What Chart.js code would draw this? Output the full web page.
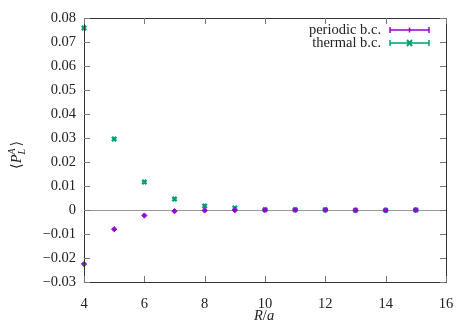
<!DOCTYPE html>
<html><head><meta charset="utf-8">
<script src="https://cdn.jsdelivr.net/npm/chart.js@4/dist/chart.umd.min.js"></script>
<style>html,body{margin:0;padding:0;background:#fff}#wrap{width:473px;height:329px}</style>
</head><body><div id="wrap"><canvas id="c" width="473" height="329"></canvas></div>
<script>
const R = [4,5,6,7,8,9,10,11,12,13,14,15];
const periodic = [-0.0225,-0.0080,-0.0023,-0.0005,-0.0002,-0.0001,0.0000,0.0000,0.0000,-0.0001,-0.0001,0.0000];
const thermal  = [0.0758,0.0296,0.0117,0.0046,0.0017,0.0008,0.0001,0.0001,0.0001,-0.0001,-0.0001,0.0000];
const xTicks = [4,6,8,10,12,14,16];
const yTicks = [-0.03,-0.02,-0.01,0,0.01,0.02,0.03,0.04,0.05,0.06,0.07,0.08];
const seriesLabels = ['periodic b.c.','thermal b.c.'];
const colors = ['#9400d3','#009e73'];
const FONT = '"Liberation Serif", "DejaVu Serif", serif';
const FS = 14.5;

function fmtY(v){
  if (Math.abs(v) < 1e-9) return '0';
  const s = Math.abs(v).toFixed(2);
  return (v<0?'\u2212':'') + s;
}

const frame = {
  id:'frame',
  afterDraw(chart){
    const {ctx, chartArea:a, scales:{x,y}} = chart;
    ctx.save();
    ctx.strokeStyle = '#333';
    ctx.lineWidth = 1;
    ctx.strokeRect(a.left+0.5, a.top+0.5, a.right-a.left, a.bottom-a.top);
    ctx.strokeStyle = '#777';
    ctx.beginPath();
    xTicks.forEach(t=>{const p=Math.round(x.getPixelForValue(t))+0.5;
      ctx.moveTo(p,a.bottom);ctx.lineTo(p,a.bottom-6);ctx.moveTo(p,a.top);ctx.lineTo(p,a.top+6);});
    yTicks.forEach(t=>{const p=Math.round(y.getPixelForValue(t))+0.5;
      ctx.moveTo(a.left,p);ctx.lineTo(a.left+6,p);ctx.moveTo(a.right,p);ctx.lineTo(a.right-6,p);});
    ctx.stroke();
    // legend
    ctx.font = FS+'px '+FONT;
    ctx.textAlign='right'; ctx.textBaseline='middle'; ctx.fillStyle='#222';
    const ly=[30,43];
    seriesLabels.forEach((lab,i)=>{
      ctx.fillText(lab, 381, ly[i]);
      ctx.strokeStyle=colors[i]; ctx.lineWidth=1.5;
      ctx.beginPath(); ctx.moveTo(390,ly[i]); ctx.lineTo(429,ly[i]);
      ctx.moveTo(390,ly[i]-3);ctx.lineTo(390,ly[i]+3);
      ctx.moveTo(429,ly[i]-3);ctx.lineTo(429,ly[i]+3);
      ctx.stroke();
      if(i===0){ctx.beginPath();ctx.moveTo(409.5,ly[i]-2.5);ctx.lineTo(409.5,ly[i]+2.5);ctx.stroke();}
      else {ctx.lineWidth=2;ctx.beginPath();ctx.moveTo(407,ly[i]-3);ctx.lineTo(412,ly[i]+3);ctx.moveTo(412,ly[i]-3);ctx.lineTo(407,ly[i]+3);ctx.stroke();}
    });
    // axis titles
    ctx.fillStyle='#222';
    ctx.textAlign='left'; ctx.textBaseline='alphabetic';
    ctx.font='italic '+FS+'px '+FONT;
    let xx=254;
    ctx.fillText('R',xx,320); xx+=ctx.measureText('R').width;
    ctx.font=FS+'px '+FONT; ctx.fillText('/',xx,320); xx+=ctx.measureText('/').width;
    ctx.font='italic '+FS+'px '+FONT; ctx.fillText('a',xx,320);
    // y title rotated
    ctx.translate(21,150); ctx.rotate(-Math.PI/2);
    let yy=-19;
    ctx.font=FS+'px '+FONT; ctx.fillText('\u27E8',yy,0); yy+=ctx.measureText('\u27E8').width;
    ctx.font='italic '+FS+'px '+FONT; ctx.fillText('P',yy,0); yy+=ctx.measureText('P').width;
    ctx.font='italic 10px '+FONT; ctx.fillText('A',yy,-6); ctx.fillText('L',yy,4); yy+=8;
    ctx.font=FS+'px '+FONT; ctx.fillText('\u27E9',yy,0);
    ctx.restore();
  }
};

new Chart(document.getElementById('c'),{
  type:'scatter',
  data:{datasets:[
    {label:seriesLabels[0],data:R.map((r,i)=>({x:r,y:periodic[i]})),clip:false,
     pointStyle:'rectRot',pointRadius:2.6,backgroundColor:colors[0],borderColor:colors[0],borderWidth:1},
    {label:seriesLabels[1],data:R.map((r,i)=>({x:r,y:thermal[i]})),clip:false,
     pointStyle:'crossRot',pointRadius:3,backgroundColor:colors[1],borderColor:colors[1],borderWidth:2.4}
  ]},
  options:{
    responsive:false,animation:false,
    layout:{padding:{left:0,right:27,top:18,bottom:0}},
    plugins:{legend:{display:false},tooltip:{enabled:false}},
    scales:{
      x:{type:'linear',min:4,max:16,
        afterBuildTicks(s){s.ticks=xTicks.map(v=>({value:v}));},
        afterFit(s){s.height=47;},
        grid:{display:false},border:{display:false},
        ticks:{color:'#222',font:{family:FONT,size:FS},padding:5,maxRotation:0,callback:v=>String(v)}},
      y:{type:'linear',min:-0.03,max:0.08,
        afterBuildTicks(s){s.ticks=yTicks.map(v=>({value:v}));},
        afterFit(s){s.width=84;},
        grid:{drawTicks:false,color:c=>Math.abs(c.tick.value)<1e-9?'#999':'rgba(0,0,0,0)',lineWidth:1},
        border:{display:false},
        ticks:{color:'#222',font:{family:FONT,size:FS},padding:8,callback:v=>fmtY(v)}}
    }
  },
  plugins:[frame]
});
</script></body></html>
